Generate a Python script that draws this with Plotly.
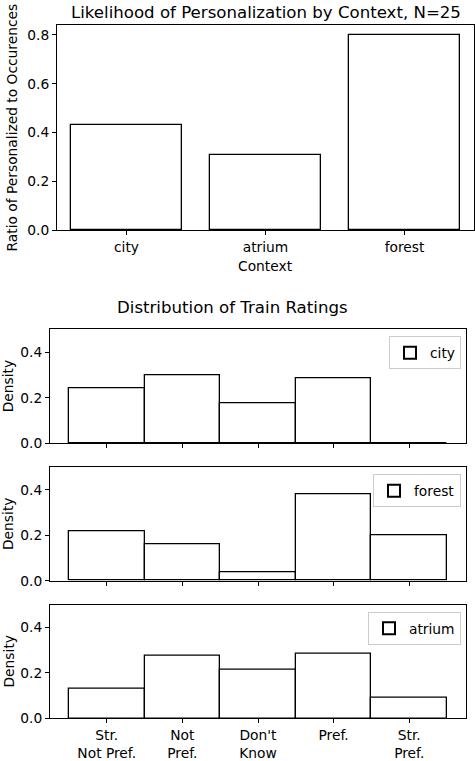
import plotly.graph_objects as go

# ---- data ----
contexts = ["city", "atrium", "forest"]
personalization_ratio = [0.43, 0.307, 0.80]

rating_labels = ["Str.<br>Not Pref.", "Not<br>Pref.", "Don't<br>Know", "Pref.", "Str.<br>Pref."]
rating_values = [1, 2, 3, 4, 5]
city_density = [0.243, 0.30, 0.174, 0.287, 0.0]
forest_density = [0.219, 0.159, 0.038, 0.383, 0.20]
atrium_density = [0.13, 0.275, 0.214, 0.286, 0.091]

W, H = 475, 761
FONT = "DejaVu Sans"
TXT = "#000000"
FS = 13.8

def py(px):
    return 1 - px / H

def pxx(px):
    return px / W

fig = go.Figure()

bar_style = dict(marker=dict(color="white", line=dict(color="black", width=1.3)))

fig.add_trace(go.Bar(x=list(range(len(contexts))), y=personalization_ratio, width=0.8,
                     showlegend=False, xaxis="x", yaxis="y", **bar_style))

panels = [("city", city_density, "x2", "y2", "legend"),
          ("forest", forest_density, "x3", "y3", "legend2"),
          ("atrium", atrium_density, "x4", "y4", "legend3")]
for name, vals, xa, ya, lg in panels:
    fig.add_trace(go.Bar(x=rating_values, y=vals, width=1, name=name,
                         xaxis=xa, yaxis=ya, legend=lg, showlegend=True, **bar_style))

axis_common = dict(showline=True, linecolor="black", linewidth=1, mirror=True,
                   ticks="outside", ticklen=4, tickcolor="black", tickwidth=1,
                   showgrid=False, zeroline=False, automargin=False,
                   tickfont=dict(family=FONT, size=FS, color=TXT))

layout = dict(
    width=W, height=H, margin=dict(l=0, r=0, t=0, b=0, autoexpand=False),
    paper_bgcolor="white", plot_bgcolor="white",
    font=dict(family=FONT, size=FS, color=TXT),
    bargap=0,
    xaxis=dict(domain=[pxx(57), pxx(474)], anchor="y", range=[-0.5, 2.5],
               tickvals=list(range(len(contexts))), ticktext=contexts,
               **axis_common),
    yaxis=dict(domain=[py(230.3), py(25)], anchor="x", range=[0, 0.84],
               tickvals=[0, 0.2, 0.4, 0.6, 0.8], tickformat=".1f",
               **axis_common),
)

ydoms = {"y2": (443.3, 329.3), "y3": (580.7, 467.3), "y4": (718.3, 604.7)}
for i, (name, vals, xa, ya, lg) in enumerate(panels):
    xk = "xaxis" + xa[1:]
    yk = "yaxis" + ya[1:]
    b, t = ydoms[ya]
    last = (i == len(panels) - 1)
    layout[xk] = dict(domain=[pxx(50), pxx(466)], anchor=ya, range=[0.25, 5.75],
                      tickvals=rating_values, ticktext=rating_labels if last else [""] * 5,
                      **axis_common)
    layout[yk] = dict(domain=[py(b), py(t)], anchor=xa, range=[0, 0.5],
                      tickvals=[0, 0.2, 0.4], tickformat=".1f",
                      **axis_common)
    layout[lg] = dict(x=pxx(461), xanchor="right", y=py(t + 7), yanchor="top",
                      bgcolor="rgba(255,255,255,0.8)", bordercolor="#cccccc", borderwidth=1,
                      font=dict(family=FONT, size=FS, color=TXT),
                      itemsizing="constant")
    fig.add_annotation(text="Density", x=pxx(8), y=py((b + t) / 2), xref="paper", yref="paper",
                       showarrow=False, textangle=-90, xanchor="center", yanchor="middle",
                       font=dict(family=FONT, size=FS, color=TXT))

fig.update_layout(**layout)

fig.add_annotation(text="Likelihood of Personalization by Context, N=25", x=pxx(265.5), y=py(12),
                   xref="paper", yref="paper", showarrow=False, xanchor="center", yanchor="middle",
                   font=dict(family=FONT, size=16.6, color=TXT))
fig.add_annotation(text="Distribution of Train Ratings", x=pxx(232.5), y=py(307),
                   xref="paper", yref="paper", showarrow=False, xanchor="center", yanchor="middle",
                   font=dict(family=FONT, size=16.6, color=TXT))
fig.add_annotation(text="Context", x=pxx(265.5), y=py(265.5), xref="paper", yref="paper",
                   showarrow=False, xanchor="center", yanchor="middle",
                   font=dict(family=FONT, size=FS, color=TXT))
fig.add_annotation(text="Ratio of Personalized to Occurences", x=pxx(12), y=py(127.5),
                   xref="paper", yref="paper", showarrow=False, textangle=-90,
                   xanchor="center", yanchor="middle",
                   font=dict(family=FONT, size=FS, color=TXT))

fig.write_html("out.html", config={"displayModeBar": False},
               post_script="document.body.style.margin='0px';")
